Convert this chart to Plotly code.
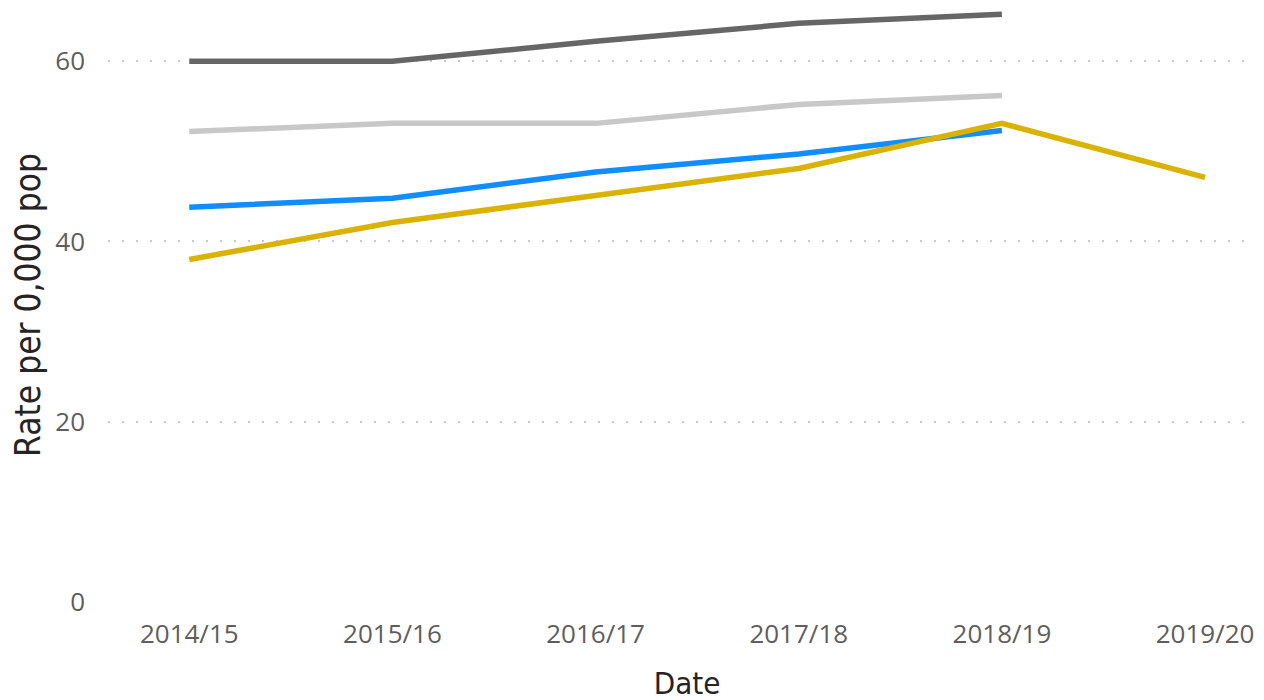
import plotly.graph_objects as go

years = ['2014/15', '2015/16', '2016/17', '2017/18', '2018/19', '2019/20']

dark_grey = [60.0, 60.0, 62.2, 64.2, 65.2, None]
light_grey = [52.2, 53.1, 53.1, 55.2, 56.2, None]
blue = [43.8, 44.8, 47.7, 49.7, 52.3, None]
gold = [38.0, 42.1, 45.1, 48.1, 53.1, 47.1]

series = [
    ('Series 1', dark_grey, '#666666'),
    ('Series 2', light_grey, '#C8C8C8'),
    ('Series 3', blue, '#118DFF'),
    ('Series 4', gold, '#D9B300'),
]

fig = go.Figure()

for name, vals, color in series:
    fig.add_trace(go.Scatter(
        x=years,
        y=vals,
        mode='lines',
        name=name,
        line=dict(color=color, width=5.5),
        connectgaps=False
    ))

# page body has an 8px margin, so the figure is offset by (8, 8)
fig.update_layout(
    width=1264,
    height=700,
    margin=dict(l=100, r=6, t=0, b=106),
    plot_bgcolor='white',
    paper_bgcolor='white',
    showlegend=False,
    font=dict(family='Open Sans', color='#666666')
)

title_font = "'Liberation Sans Narrow', 'DejaVu Sans Condensed', Roboto"

fig.update_xaxes(
    type='category',
    range=[-0.4, 5.3],
    showgrid=False,
    showline=False,
    ticks='',
    ticklabelstandoff=14,
    tickfont=dict(size=26, color='#605E5C'),
    title=dict(text='Date', font=dict(size=31, color='#252423', family=title_font), standoff=22)
)

fig.update_yaxes(
    range=[0, 65.9],
    tickvals=[0, 20, 40, 60],
    showgrid=True,
    gridcolor='#C8C8C8',
    gridwidth=1.5,
    griddash='2px,12px',
    zeroline=False,
    showline=False,
    ticks='',
    ticklabelstandoff=22,
    tickfont=dict(size=26, color='#605E5C'),
    title=dict(text='Rate per 0,000 pop', font=dict(size=35, color='#252423', family=title_font), standoff=16)
)

fig.write_html("out.html")
